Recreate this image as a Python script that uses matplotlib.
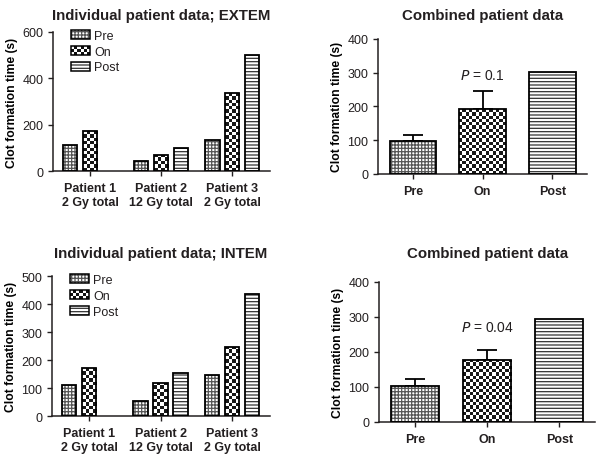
import numpy as np
import matplotlib
matplotlib.use('Agg')
import matplotlib.pyplot as plt
from matplotlib.patches import Patch, Rectangle
from matplotlib.legend_handler import HandlerBase

plt.rcParams['font.family'] = ['Liberation Sans', 'DejaVu Sans']
plt.rcParams['hatch.linewidth'] = 0.9
plt.rcParams['text.color'] = '#231f20'

# data
patients = ['Patient 1\n2 Gy total', 'Patient 2\n12 Gy total', 'Patient 3\n2 Gy total']
series = ['Pre', 'On', 'Post']
extem_pre = [112, 42, 135]
extem_on = [172, 70, 335]
extem_post = [0, 100, 502]
intem_pre = [112, 55, 145]
intem_on = [170, 118, 248]
intem_post = [0, 153, 435]

comb_labels = ['Pre', 'On', 'Post']
extem_mean = [98, 192, 302]
extem_err = [16, 53, 0]
intem_mean = [103, 178, 293]
intem_err = [19, 27, 0]
p_extem = '0.1'
p_intem = '0.04'

hatches = {'Pre': '+++++', 'On': None, 'Post': '-----'}
hcolors = {'Pre': '#555555', 'On': '#111111', 'Post': '#333333'}
ink = '#231f20'

fig = plt.figure(figsize=(6.04, 4.64), dpi=100)


class CheckerHandler(HandlerBase):
    # legend key with a checkerboard fill
    def create_artists(self, legend, orig_handle, xdescent, ydescent, width, height, fontsize, trans):
        arts = []
        nx, ny = 6, 3
        cw, ch = width / nx, height / ny
        for i in range(nx):
            for j in range(ny):
                if (i + j) % 2:
                    arts.append(Rectangle((-xdescent + i * cw, -ydescent + j * ch), cw, ch,
                                          facecolor='#111111', edgecolor='none', transform=trans))
        arts.append(Rectangle((-xdescent, -ydescent), width, height, facecolor='none',
                              edgecolor='black', linewidth=1.1, transform=trans))
        return arts


def style(ax, ymax, ystep):
    for s in ['top', 'right']:
        ax.spines[s].set_visible(False)
    for s in ['left', 'bottom']:
        ax.spines[s].set_linewidth(1.1)
        ax.spines[s].set_color(ink)
    ax.set_ylim(0, ymax)
    ax.set_yticks(np.arange(0, ymax + 1, ystep))
    ax.tick_params(axis='both', direction='out', length=3.5, width=1.0,
                   color=ink, labelcolor=ink, labelsize=9)
    ax.tick_params(axis='x', pad=4.5)
    ax.set_ylabel('Clot formation time (s)', fontsize=8.7, fontweight='bold', labelpad=3)


def hbar(ax, x, h, w, name):
    if name == 'On':
        # checkerboard fill, clipped to the bar
        out = ax.bar(x, h, w, fill=False, edgecolor='black', linewidth=1.3, zorder=3)
        for xi, hi, r in zip(np.atleast_1d(x), np.atleast_1d(h), out.patches):
            p0 = ax.transData.transform((xi - w / 2, 0))
            p1 = ax.transData.transform((xi + w / 2, hi))
            nx = max(1, int(round((p1[0] - p0[0]) / 3.3)))
            ny = max(1, int(round((p1[1] - p0[1]) / 3.3)))
            cb = np.indices((ny, nx)).sum(0) % 2
            im = ax.imshow(cb, extent=(xi - w / 2, xi + w / 2, 0, hi), cmap='gray',
                           vmin=-0.1, vmax=1, interpolation='nearest', aspect='auto',
                           origin='lower', zorder=2)
            im.set_clip_path(r)
        return
    ax.bar(x, h, w, color='white', edgecolor=hcolors[name], hatch=hatches[name], linewidth=0)
    ax.bar(x, h, w, fill=False, edgecolor='black', linewidth=1.3, zorder=3)


def individual(rect, vals, title, ymax, ystep, pad):
    ax = fig.add_axes(rect)
    x = np.arange(len(patients))
    style(ax, ymax, ystep)
    ax.set_xlim(-0.52, 2.53)
    for i, name in enumerate(series):
        v = np.array(vals[i])
        m = v > 0
        hbar(ax, x[m] + (i - 1) * 0.28, v[m], 0.2, name)
    ax.set_xlim(-0.52, 2.53)
    ax.set_ylim(0, ymax)
    ax.set_xticks(x)
    ax.set_xticklabels(patients, fontweight='bold', linespacing=1.2)
    ax.set_title(title, fontsize=10.8, fontweight='bold', pad=pad)
    handles = []
    hmap = {}
    for n in series:
        if n == 'On':
            h = Patch(facecolor='white')
            hmap[h] = CheckerHandler()
        else:
            h = (Patch(facecolor='white', edgecolor=hcolors[n], hatch=hatches[n], linewidth=0),
                 Patch(facecolor='none', edgecolor='black', linewidth=1.1))
        handles.append(h)
    ax.legend(handles, series, loc='upper left', bbox_to_anchor=(0.06, 1.05), frameon=False,
              fontsize=9, handlelength=1.5, handleheight=0.75, handletextpad=0.35,
              labelspacing=0.3, borderaxespad=0, handler_map=hmap)
    return ax


def combined(rect, mean, err, ptxt, pval, pad):
    ax = fig.add_axes(rect)
    x = np.arange(len(comb_labels))
    style(ax, 400, 100)
    ax.set_xlim(-0.5, 2.5)
    for i, name in enumerate(comb_labels):
        if err[i] > 0:
            ax.errorbar(x[i], mean[i], yerr=[[0], [err[i]]], color='black', capsize=7,
                        elinewidth=1.3, capthick=1.3, zorder=1)
        hbar(ax, x[i], mean[i], 0.67, name)
    ax.set_xlim(-0.5, 2.5)
    ax.set_ylim(0, 400)
    ax.set_xticks(x)
    ax.set_xticklabels(comb_labels, fontweight='bold')
    ax.set_title('Combined patient data', fontsize=10.8, fontweight='bold', pad=pad)
    ax.text(1, pval, '$P$ = ' + ptxt, ha='center', va='center', fontsize=10)
    return ax


individual([0.088, 0.629, 0.359, 0.300], [extem_pre, extem_on, extem_post],
           'Individual patient data; EXTEM', 600, 200, 9)
combined([0.626, 0.623, 0.346, 0.291], extem_mean, extem_err, p_extem, 293, 14)
individual([0.086, 0.101, 0.361, 0.302], [intem_pre, intem_on, intem_post],
           'Individual patient data; INTEM', 500, 100, 14)
combined([0.6275, 0.0884, 0.358, 0.302], intem_mean, intem_err, p_intem, 271, 18)

fig.savefig('out.png', dpi=100)
